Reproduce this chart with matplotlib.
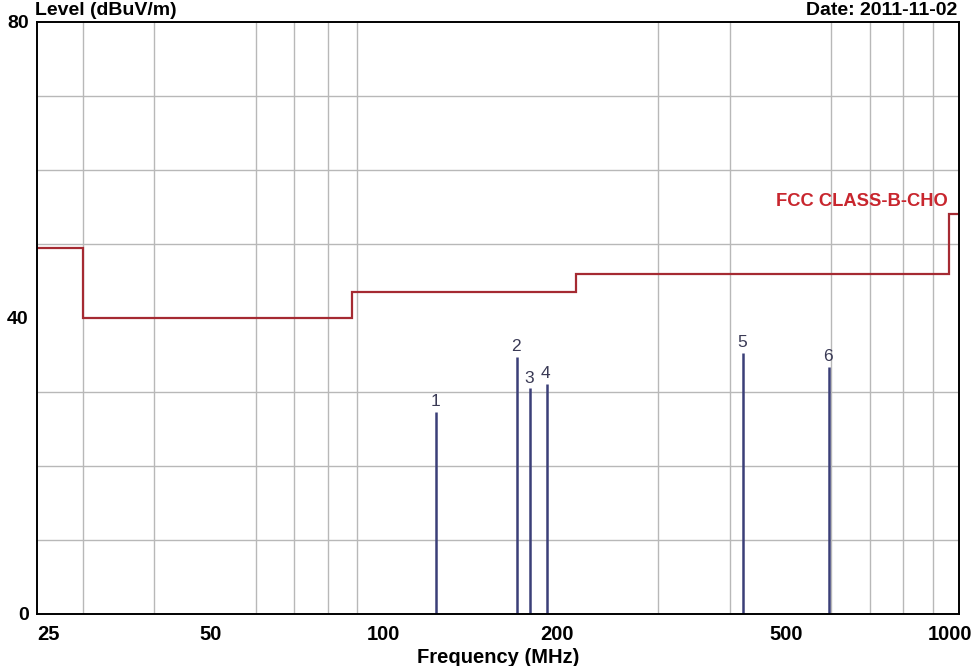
import matplotlib
matplotlib.use("Agg")
import matplotlib.pyplot as plt
from matplotlib.transforms import ScaledTranslation

# limit line (FCC class B), step edges in MHz and levels in dBuV/m
limit_freq = [25, 30, 88, 216, 960, 1000]
limit_level = [49.5, 40.0, 43.5, 46.0, 54.0]

# measured peaks
peak_no = ["1", "2", "3", "4", "5", "6"]
peak_freq = [123.6, 170.9, 180.0, 192.0, 421.7, 594.6]
peak_level = [27.3, 34.7, 30.5, 31.1, 35.3, 33.4]

x_ticks = [25, 50, 100, 200, 500, 1000]
x_grid = [30, 40, 50, 60, 70, 80, 90, 100, 200, 300, 400, 500, 600, 700, 800, 900]
y_ticks = [0, 40, 80]
y_grid = [10, 20, 30, 40, 50, 60, 70]

plt.rcParams['font.family'] = ['Liberation Sans', 'DejaVu Sans']

fig = plt.figure(figsize=(9.72, 6.66), dpi=100)
ax = fig.add_axes([37 / 972, 1 - 614 / 666, 922 / 972, 592 / 666])

ax.set_xscale('log')
ax.set_xlim(25, 1000)
ax.set_ylim(0, 80)

# grid
ax.set_xticks(x_grid, minor=True)
ax.set_yticks(y_grid, minor=True)
ax.grid(which='minor', color='#b8b8b8', linewidth=1.0)
ax.set_axisbelow(True)

ax.set_xticks(x_ticks)
ax.set_xticklabels([str(t) for t in x_ticks])
ax.set_yticks(y_ticks)
ax.set_yticklabels([str(t) for t in y_ticks])
ax.tick_params(which='both', length=0)
ax.tick_params(axis='x', pad=8, labelsize=14.5)
ax.tick_params(axis='y', pad=6, labelsize=14)
for lab in ax.get_xticklabels() + ax.get_yticklabels():
    lab.set_fontweight('bold')
ax.get_xticklabels()[0].set_horizontalalignment('left')
last = ax.get_xticklabels()[-1]
last.set_transform(last.get_transform() + ScaledTranslation(-0.09, 0, fig.dpi_scale_trans))

for sp in ax.spines.values():
    sp.set_linewidth(1.4)
    sp.set_color('black')

# limit line
ax.stairs(limit_level, limit_freq, baseline=None, color='#a52a32', linewidth=1.6)
ax.text(957, 55.7, "FCC CLASS-B-CHO", color='#c8262e', fontsize=13.2,
        fontweight='bold', ha='right', va='center')

# peaks
ax.vlines(peak_freq, 0, peak_level, color='#3b3f78', linewidth=1.8)
for n, f, lv in zip(peak_no, peak_freq, peak_level):
    ax.annotate(n, (f, lv), xytext=(-1, 2), textcoords='offset points',
                ha='center', va='bottom', fontsize=12.5, color='#3a3a55')

fig.text(35 / 972, 1 - 15 / 666, "Level (dBuV/m)", fontsize=14, fontweight='bold',
         ha='left', va='baseline')
fig.text(957 / 972, 1 - 15 / 666, "Date: 2011-11-02", fontsize=14, fontweight='bold',
         ha='right', va='baseline')
ax.set_xlabel("Frequency (MHz)", fontsize=14.5, fontweight='bold', labelpad=3)

fig.savefig('out.png', dpi=100, facecolor='white')
